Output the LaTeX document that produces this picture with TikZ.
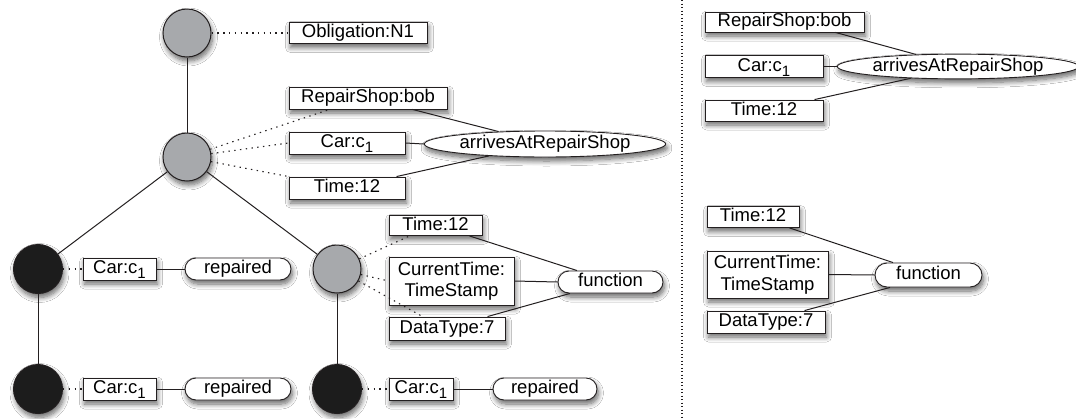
\documentclass[tikz,border=0pt]{standalone}
\usepackage{fontspec}
\setmainfont{Liberation Sans}
\usetikzlibrary{shapes.geometric,shadows.blur,calc}
\definecolor{stategray}{HTML}{A7A9AC}
\definecolor{stateblack}{HTML}{1C1C1C}
\definecolor{edgecol}{HTML}{231F20}
\newcommand{\subone}{\raisebox{-5pt}[0pt][0pt]{\fontsize{15}{15}\selectfont 1}}
\begin{document}
\begin{tikzpicture}[x=1pt,y=-1pt,
  font=\fontsize{18.5}{21.5}\selectfont,
  shd/.style={blur shadow={shadow xshift=1.5pt,shadow yshift=-4pt,shadow blur steps=8,shadow blur radius=5pt,shadow opacity=60}},
  frame/.style={draw=edgecol,fill=white,line width=0.9pt,inner sep=0pt,shd},
  sl/.style={text height=13.5pt,text depth=4pt},
  box/.style={frame,sl},
  mbox/.style={frame,align=center},
  ell/.style={ellipse,frame,sl},
  pill/.style={frame,sl,rounded corners=11pt},
  gstate/.style={circle,draw=edgecol,fill=stategray,line width=1pt,minimum size=48pt,inner sep=0pt,shd},
  bstate/.style={circle,draw=edgecol,fill=stateblack,line width=1pt,minimum size=49pt,inner sep=0pt,shd},
  tree/.style={draw=edgecol,line width=1pt},
  link/.style={draw=edgecol,line width=1pt},
  dots/.style={draw=edgecol,line width=1.1pt,dash pattern=on 1.4pt off 4.4pt},
]
\fill[white] (0,0) rectangle (1076,418);
\useasboundingbox (0,0) rectangle (1076,418);

% separator
\coordinate (sepT) at (682,0);
\coordinate (sepB) at (682,418);
\draw[draw=edgecol,line width=1.1pt,dash pattern=on 1.3pt off 2.2pt] (sepT) -- (sepB);

% states
\node[gstate] (c1) at (187,33) {};
\node[gstate] (c2) at (187,157) {};
\node[bstate] (bl1) at (38,269) {};
\node[bstate] (bl2) at (38,389) {};
\node[gstate] (gr) at (337,269) {};
\node[bstate] (bl3) at (337,389) {};

\draw[tree] (c1) -- (c2);
\draw[tree] (c2) -- (bl1);
\draw[tree] (c2) -- (gr);
\draw[tree] (bl1) -- (bl2);
\draw[tree] (gr) -- (bl3);

% left panel labels
\node[box,minimum width=138pt,minimum height=21pt] (ob) at (358,33) {Obligation:N1};

\node[box,minimum width=158pt,minimum height=22pt] (rs1) at (368,98) {RepairShop:bob};
\node[box,minimum width=116pt,minimum height=22pt] (car1) at (347,143) {Car:c\subone};
\node[box,minimum width=116pt,minimum height=22pt] (time1) at (347,188) {Time:12};
\node[ell,minimum width=239pt,minimum height=26pt] (e1) at (545,144) {arrivesAtRepairShop};
\draw[link] ($(rs1.south west)+(124,0)$) -- (e1.165);
\draw[link] (car1.east) -- (e1.west);
\draw[link] ($(time1.north west)+(108,0)$) -- (e1.192);

\node[box,minimum width=73pt,minimum height=22pt] (carL1) at (119.5,269) {Car:c\subone};
\node[pill,minimum width=106pt,minimum height=22pt] (repL1) at (238,269) {repaired};
\draw[link] (carL1.east) -- (repL1.west);
\node[box,minimum width=73pt,minimum height=22pt] (carL2) at (119.5,389) {Car:c\subone};
\node[pill,minimum width=106pt,minimum height=22pt] (repL2) at (238,389) {repaired};
\draw[link] (carL2.east) -- (repL2.west);

\node[box,minimum width=93pt,minimum height=20pt] (time2) at (435.5,225.5) {Time:12};
\node[mbox,minimum width=125pt,minimum height=48pt] (ct2) at (451.5,281) {CurrentTime:\\TimeStamp};
\node[box,minimum width=116pt,minimum height=23pt] (dt2) at (447,328.5) {DataType:7};
\node[pill,minimum width=105pt,minimum height=22pt] (fn2) at (610.5,282) {function};
\draw[link] ($(time2.south west)+(81,0)$) -- ($(fn2.north)+(-33.5,0)$);
\draw[link] (ct2.east) -- (fn2.west);
\draw[link] ($(dt2.north west)+(99,0)$) -- ($(fn2.south)+(-40.5,0)$);

\node[box,minimum width=64pt,minimum height=22pt] (carR) at (421,389) {Car:c\subone};
\node[pill,minimum width=104pt,minimum height=22pt] (repR) at (545,389) {repaired};
\draw[link] (carR.east) -- (repR.west);

% dotted attachments
\draw[dots] (c1) -- (ob.west);
\draw[dots] (c2) -- ($(rs1.south west)+(41,0)$);
\draw[dots] (c2) -- (car1.west);
\draw[dots] (c2) -- (time1.north west);
\draw[dots] (bl1) -- (carL1.west);
\draw[dots] (bl2) -- (carL2.west);
\draw[dots] (gr) -- ($(time2.south west)+(21,0)$);
\draw[dots] (gr) -- (ct2.west);
\draw[dots] (gr) -- ($(dt2.north west)+(34,0)$);
\draw[dots] (bl3) -- (carR.west);

% right panel
\node[box,minimum width=159pt,minimum height=20pt] (rs3) at (784.5,22) {RepairShop:bob};
\node[box,minimum width=118pt,minimum height=22pt] (car3) at (764,66.5) {Car:c\subone};
\node[box,minimum width=118pt,minimum height=21pt] (time3) at (764,110.5) {Time:12};
\node[ell,minimum width=230pt,minimum height=24pt] (e3) at (958,66.5) {arrivesAtRepairShop};
\draw[link] ($(rs3.south west)+(131,0)$) -- (e3.164);
\draw[link] (car3.east) -- (e3.west);
\draw[link] ($(time3.north west)+(110,0)$) -- (e3.194);

\node[box,minimum width=92pt,minimum height=21pt] (time4) at (753,217) {Time:12};
\node[mbox,minimum width=121pt,minimum height=47pt] (ct4) at (767.5,274.5) {CurrentTime:\\TimeStamp};
\node[box,minimum width=118pt,minimum height=22pt] (dt4) at (766,322) {DataType:7};
\node[pill,minimum width=107pt,minimum height=24pt,rounded corners=12pt] (fn4) at (928.5,275) {function};
\draw[link] ($(time4.south west)+(83,0)$) -- ($(fn4.north)+(-35.5,0)$);
\draw[link] (ct4.east) -- (fn4.west);
\draw[link] ($(dt4.north west)+(98,0)$) -- ($(fn4.south)+(-38.5,0)$);
\end{tikzpicture}
\end{document}
